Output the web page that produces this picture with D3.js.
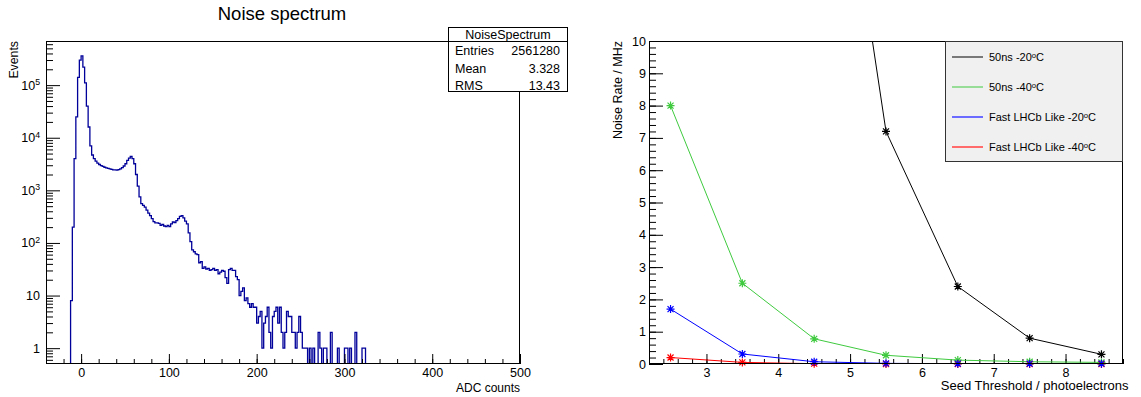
<!DOCTYPE html>
<html>
<head>
<meta charset="utf-8">
<script src="https://cdn.jsdelivr.net/npm/d3@7"></script>
<style>
  body { margin: 0; background: #fff; }
  svg { display: block; font-family: 'Liberation Sans', Arial, Helvetica, sans-serif; }
  .domain { display: none; }
  .tick line { stroke: #000; }
  .tick text { font-family: 'Liberation Sans', Arial, Helvetica, sans-serif; font-size: 12.5px; fill: #000; }
</style>
</head>
<body>
<svg id="chart" width="1141" height="397"></svg>
<script>
// noise spectrum histogram, ADC counts, bins of 2 starting at -14
const binStart = -14
const binWidth = 2
const binCounts = [
  0, 8, 200, 4000, 25000, 140000, 300000, 360000, 220000, 110000,
  40000, 16000, 7000, 4700, 4000, 3600, 3300, 3100, 2950, 2850,
  2750, 2680, 2620, 2560, 2500, 2460, 2440, 2430, 2480, 2550,
  2700, 2900, 3200, 3700, 4100, 4400, 4000, 3200, 2000, 1200,
  750, 560, 520, 480, 420, 370, 330, 290, 255, 240,
  240, 235, 215, 225, 210, 205, 215, 205, 230, 250,
  245, 265, 290, 320, 330, 300, 260, 230, 155, 106,
  74, 68, 62, 60, 42, 44, 33, 35, 32, 33,
  30, 31, 33, 30, 31, 26, 28, 30, 29, 22,
  17, 31, 33, 30, 30, 23, 20, 10, 12, 14,
  8, 9, 7, 6, 7, 6, 6, 3, 4, 5,
  1, 3, 4, 6, 2, 1, 4, 5, 6, 3,
  6, 2, 1, 2, 5, 4, 4, 2, 2, 1,
  2, 4, 2, 1, 1, 1, 0, 1, 0, 1,
  0, 0, 2, 1, 0, 1, 1, 0, 0, 2,
  0, 0, 0, 1, 0, 0, 0, 1, 1, 0,
  1, 0, 0, 2, 0, 0, 0, 1, 1, 0
]

const histTitle = 'Noise spectrum'
const statsTitle = 'NoiseSpectrum'
const statsNames = ['Entries', 'Mean', 'RMS']
const statsValues = ['2561280', '3.328', '13.43']

// noise rate vs seed threshold
const thresholds = [2.5, 3.5, 4.5, 5.5, 6.5, 7.5, 8.5]
const rate50nsM20 = [260, 75, 22, 7.2, 2.4, 0.8, 0.3]
const rate50nsM40 = [8.0, 2.5, 0.78, 0.27, 0.12, 0.07, 0.05]
const rateFastM20 = [1.7, 0.31, 0.07, 0.02, 0.01, 0.01, 0.01]
const rateFastM40 = [0.2, 0.05, 0.01, 0, 0, 0, 0]
const seriesNames = ['50ns -20°C', '50ns -40°C', 'Fast LHCb Like -20°C', 'Fast LHCb Like -40°C']

const svg = d3.select('#chart')

main()

function main() {
  drawHistogram()
  drawRates()
}

function drawHistogram() {
  const left = 46, right = 520, top = 41, bottom = 364
  const x = d3.scaleLinear().domain([-40, 500]).range([left, right])
  const y = d3.scaleLog().domain([0.5, 6.9e5]).range([bottom, top])
  const floor = y.domain()[0]

  svg.append('text')
    .attr('x', 282).attr('y', 19.5)
    .attr('text-anchor', 'middle')
    .attr('font-size', 18.5)
    .text(histTitle)

  svg.append('clipPath').attr('id', 'clipL')
    .append('rect').attr('x', left).attr('y', top)
    .attr('width', right - left).attr('height', bottom - top)

  const pts = [[x(binStart), y(floor)]]
  binCounts.forEach((c, i) => {
    const x0 = binStart + i * binWidth
    const v = Math.max(c, floor)
    pts.push([x(x0), y(v)], [x(x0 + binWidth), y(v)])
  })
  pts.push([x(binStart + binCounts.length * binWidth), y(floor)])

  svg.append('path')
    .attr('d', d3.line()(pts))
    .attr('clip-path', 'url(#clipL)')
    .attr('fill', 'none')
    .attr('stroke', '#00009a')
    .attr('stroke-width', 1.3)

  // x axis
  svg.append('g')
    .attr('transform', `translate(0,${bottom})`)
    .call(d3.axisBottom(x).tickValues(d3.range(-40, 501, 20)).tickSize(-5).tickFormat(''))
  svg.append('g')
    .attr('transform', `translate(0,${bottom})`)
    .call(d3.axisBottom(x).tickValues([0, 100, 200, 300, 400, 500]).tickSize(-10).tickPadding(4).tickFormat(d3.format('d')))

  // y axis (log)
  const minor = []
  for (let e = -1; e <= 5; e++) {
    for (let k = 2; k <= 9; k++) {
      const v = k * Math.pow(10, e)
      if (v > 0.5 && v < 6.9e5) minor.push(v)
    }
  }
  svg.append('g')
    .attr('transform', `translate(${left},0)`)
    .call(d3.axisLeft(y).tickValues(minor).tickSize(-7).tickFormat(''))
  const yg = svg.append('g')
    .attr('transform', `translate(${left},0)`)
    .call(d3.axisLeft(y).tickValues([1, 10, 100, 1e3, 1e4, 1e5]).tickSize(-14).tickPadding(6))
  yg.selectAll('.tick text').text(null).each(function (d) {
    const e = Math.round(Math.log10(d))
    const t = d3.select(this)
    if (e === 0) t.text('1')
    else if (e === 1) t.text('10')
    else {
      t.append('tspan').text('10')
      t.append('tspan').attr('dy', '-0.5em').attr('font-size', '0.7em').text(e)
    }
  })

  svg.append('rect')
    .attr('x', left + 0.5).attr('y', top + 0.5)
    .attr('width', right - left - 1).attr('height', bottom - top - 1)
    .attr('fill', 'none').attr('stroke', '#000')

  svg.append('text')
    .attr('x', right).attr('y', 392)
    .attr('text-anchor', 'end').attr('font-size', 12)
    .text('ADC counts')
  svg.append('text')
    .attr('transform', `translate(18,${top}) rotate(-90)`)
    .attr('text-anchor', 'end').attr('font-size', 12.3)
    .text('Events')

  // stats box
  const sb = svg.append('g')
  sb.append('rect')
    .attr('x', 448.5).attr('y', 27.5).attr('width', 119).attr('height', 64)
    .attr('fill', '#fff').attr('stroke', '#000')
  sb.append('line')
    .attr('x1', 448.5).attr('x2', 567.5).attr('y1', 41.5).attr('y2', 41.5)
    .attr('stroke', '#000')
  sb.append('text')
    .attr('x', 508).attr('y', 39)
    .attr('text-anchor', 'middle').attr('font-size', 12.5)
    .text(statsTitle)
  const rowY = [55, 72.5, 90]
  statsNames.forEach((n, i) => {
    sb.append('text').attr('x', 455).attr('y', rowY[i]).attr('font-size', 12.5).text(n)
    sb.append('text').attr('x', 560).attr('y', rowY[i])
      .attr('text-anchor', 'end').attr('font-size', 12.5).text(statsValues[i])
  })
}

function drawRates() {
  const left = 649, right = 1123, top = 41, bottom = 364
  const x = d3.scaleLinear().domain([2.2, 8.8]).range([left, right])
  const y = d3.scaleLinear().domain([0, 10]).range([bottom, top])

  svg.append('clipPath').attr('id', 'clipR')
    .append('rect').attr('x', left).attr('y', top)
    .attr('width', right - left).attr('height', bottom - top)

  // axes
  svg.append('g')
    .attr('transform', `translate(0,${bottom})`)
    .call(d3.axisBottom(x).tickValues(d3.range(22, 89, 2).map((d) => d / 10)).tickSize(-5).tickFormat(''))
  svg.append('g')
    .attr('transform', `translate(0,${bottom})`)
    .call(d3.axisBottom(x).tickValues([3, 4, 5, 6, 7, 8]).tickSize(-10).tickPadding(4).tickFormat(d3.format('d')))
  svg.append('g')
    .attr('transform', `translate(${left},0)`)
    .call(d3.axisLeft(y).tickValues(d3.range(0, 101, 2).map((d) => d / 10)).tickSize(-7).tickFormat(''))
  svg.append('g')
    .attr('transform', `translate(${left},0)`)
    .call(d3.axisLeft(y).tickValues(d3.range(0, 11)).tickSize(-14).tickPadding(3).tickFormat(d3.format('d')))

  const asterisk = {
    draw(ctx, size) {
      const r = Math.sqrt(size) / 2
      const d = r * 0.75
      ctx.moveTo(-r, 0); ctx.lineTo(r, 0)
      ctx.moveTo(0, -r); ctx.lineTo(0, r)
      ctx.moveTo(-d, -d); ctx.lineTo(d, d)
      ctx.moveTo(-d, d); ctx.lineTo(d, -d)
    }
  }
  const marker = d3.symbol().type(asterisk).size(64)

  const series = [
    { values: rate50nsM20, color: '#000000' },
    { values: rate50nsM40, color: '#3fca3f' },
    { values: rateFastM40, color: '#ff0000' },
    { values: rateFastM20, color: '#0000ff' }
  ]
  const line = d3.line().x((d) => x(d[0])).y((d) => y(d[1]))

  series.forEach((s) => {
    const pts = thresholds.map((t, i) => [t, s.values[i]])
    svg.append('path')
      .attr('d', line(pts))
      .attr('clip-path', 'url(#clipR)')
      .attr('fill', 'none')
      .attr('stroke', s.color)
      .attr('stroke-width', 1)
    svg.append('g')
      .selectAll('path')
      .data(pts.filter((p) => p[1] <= 10))
      .enter()
      .append('path')
      .attr('transform', (p) => `translate(${x(p[0])},${y(p[1])})`)
      .attr('d', marker)
      .attr('fill', 'none')
      .attr('stroke', s.color)
      .attr('stroke-width', 1.2)
  })

  svg.append('rect')
    .attr('x', left + 0.5).attr('y', top + 0.5)
    .attr('width', right - left - 1).attr('height', bottom - top - 1)
    .attr('fill', 'none').attr('stroke', '#000')

  svg.append('text')
    .attr('x', 1128.5).attr('y', 390)
    .attr('text-anchor', 'end').attr('font-size', 13)
    .text('Seed Threshold / photoelectrons')
  svg.append('text')
    .attr('transform', `translate(621.5,${top}) rotate(-90)`)
    .attr('text-anchor', 'end').attr('font-size', 12.5)
    .text('Noise Rate / MHz')

  // legend
  const lg = svg.append('g')
  lg.append('rect')
    .attr('x', 945.5).attr('y', 41.5).attr('width', 177).attr('height', 120)
    .attr('fill', '#f0f0f0').attr('stroke', '#333')
  const legendColors = ['#000000', '#3fca3f', '#6b6bff', '#ff6b6b']
  const legendWidths = [1, 1, 2, 2]
  seriesNames.forEach((name, i) => {
    const ly = 57 + i * 30
    lg.append('line')
      .attr('x1', 952).attr('x2', 983).attr('y1', ly).attr('y2', ly)
      .attr('stroke', legendColors[i]).attr('stroke-width', legendWidths[i])
    const parts = name.split('°')
    const t = lg.append('text').attr('x', 989).attr('y', ly + 4).attr('font-size', 11)
    t.append('tspan').text(parts[0])
    t.append('tspan').attr('dy', '-0.4em').attr('font-size', '0.7em').text('o')
    t.append('tspan').attr('dy', '0.28em').text(parts[1])
  })
}
</script>
</body>
</html>
